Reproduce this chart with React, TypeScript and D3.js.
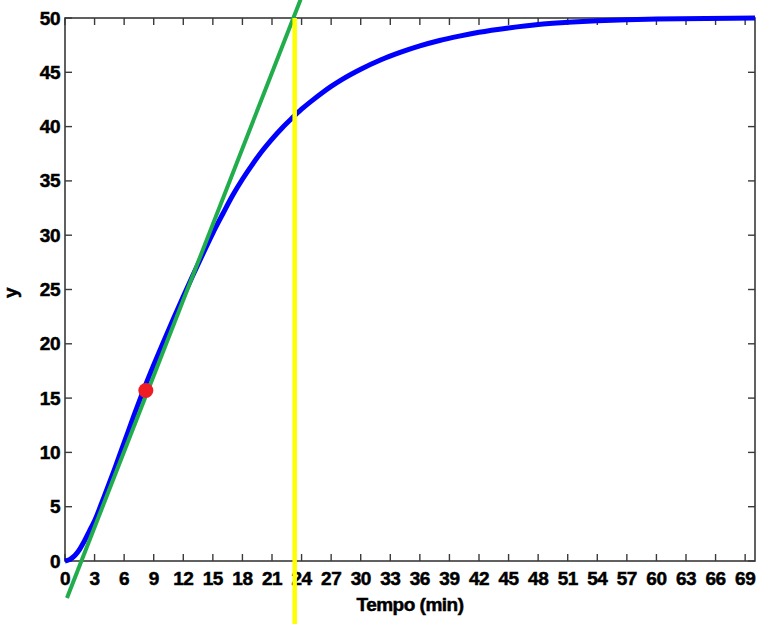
import React from "react";
import * as d3 from "d3";

const timeMin = [0, 0.5, 1, 1.5, 2, 2.5, 3, 4, 5, 6, 7, 8, 9, 10, 11, 12, 13, 14, 15, 16, 17, 18, 19, 20, 21, 22, 23, 24, 25, 26, 27, 28, 30, 32, 34, 36, 38, 40, 42, 45, 48, 51, 54, 57, 60, 65, 70];
const yValues = [0, 0.15, 0.5, 1.1, 1.9, 2.8, 3.7, 6.0, 8.4, 10.9, 13.4, 15.8, 18.05, 20.2, 22.3, 24.35, 26.35, 28.3, 30.2, 31.95, 33.65, 35.15, 36.5, 37.75, 38.85, 39.85, 40.75, 41.6, 42.35, 43.05, 43.7, 44.28, 45.28, 46.13, 46.83, 47.43, 47.93, 48.33, 48.68, 49.08, 49.4, 49.6, 49.75, 49.85, 49.91, 49.96, 50];

const tangentT = [0.2, 23.9];
const tangentY = [-3.4, 51.7];
const inflectionPoint = { t: 8.2, y: 15.7 };
const verticalT = 23.3;
const verticalY = [50, -6];

const xTicks = d3.range(0, 70, 3);
const yTicks = d3.range(0, 51, 5);

const W = 778;
const H = 624;
const left = 65;
const right = 755;
const top = 18;
const bottom = 561;

export default function App() {
  const x = d3.scaleLinear().domain([0, 70]).range([left, right]);
  const y = d3.scaleLinear().domain([0, 50]).range([bottom, top]);
  const pts = timeMin.map((t, i) => [t, yValues[i]] as [number, number]);
  const line = d3
    .line<[number, number]>()
    .x((d) => x(d[0]))
    .y((d) => y(d[1]))
    .curve(d3.curveMonotoneX);
  const axisColor = "#3a3a3a";
  const font = "'Liberation Sans', Arial, sans-serif";
  const tickLen = 7;
  const textProps = {
    fontFamily: font,
    fontWeight: "bold" as const,
    fontSize: 19,
    fill: "#000",
    stroke: "#000",
    strokeWidth: 0.5,
    letterSpacing: -0.5,
  };
  return (
    <svg
      width={W}
      height={H}
      style={{ position: "absolute", left: 0, top: 0, background: "#fff" }}
    >
      <rect x={0} y={0} width={W} height={H} fill="#fff" />
      <rect x={left} y={top} width={right - left} height={bottom - top} fill="none" stroke={axisColor} strokeWidth={1.6} />
      {xTicks.map((t) => (
        <g key={"xt" + t}>
          <line x1={x(t)} x2={x(t)} y1={bottom} y2={bottom - tickLen} stroke={axisColor} strokeWidth={1.4} />
          <line x1={x(t)} x2={x(t)} y1={top} y2={top + tickLen} stroke={axisColor} strokeWidth={1.4} />
          <text x={x(t)} y={585} textAnchor="middle" {...textProps}>
            {t}
          </text>
        </g>
      ))}
      {yTicks.map((v) => (
        <g key={"yt" + v}>
          <line x1={left} x2={left + tickLen} y1={y(v)} y2={y(v)} stroke={axisColor} strokeWidth={1.4} />
          <line x1={right} x2={right - tickLen} y1={y(v)} y2={y(v)} stroke={axisColor} strokeWidth={1.4} />
          <text x={60} y={y(v) + 6.5} textAnchor="end" {...textProps}>
            {v}
          </text>
        </g>
      ))}
      <text x={410} y={611} textAnchor="middle" {...textProps}>
        Tempo (min)
      </text>
      <text transform="translate(17,293) rotate(-90)" textAnchor="middle" {...textProps}>
        y
      </text>
      <path d={line(pts) || ""} fill="none" stroke="#0000ff" strokeWidth={5} />
      <line x1={x(tangentT[0])} y1={y(tangentY[0])} x2={x(tangentT[1])} y2={y(tangentY[1])} stroke="#21ad4b" strokeWidth={4} />
      <line x1={x(verticalT)} x2={x(verticalT)} y1={y(verticalY[0])} y2={y(verticalY[1])} stroke="#ffff00" strokeWidth={4.5} />
      <circle cx={x(inflectionPoint.t)} cy={y(inflectionPoint.y)} r={7.5} fill="#ee1c24" />
    </svg>
  );
}
